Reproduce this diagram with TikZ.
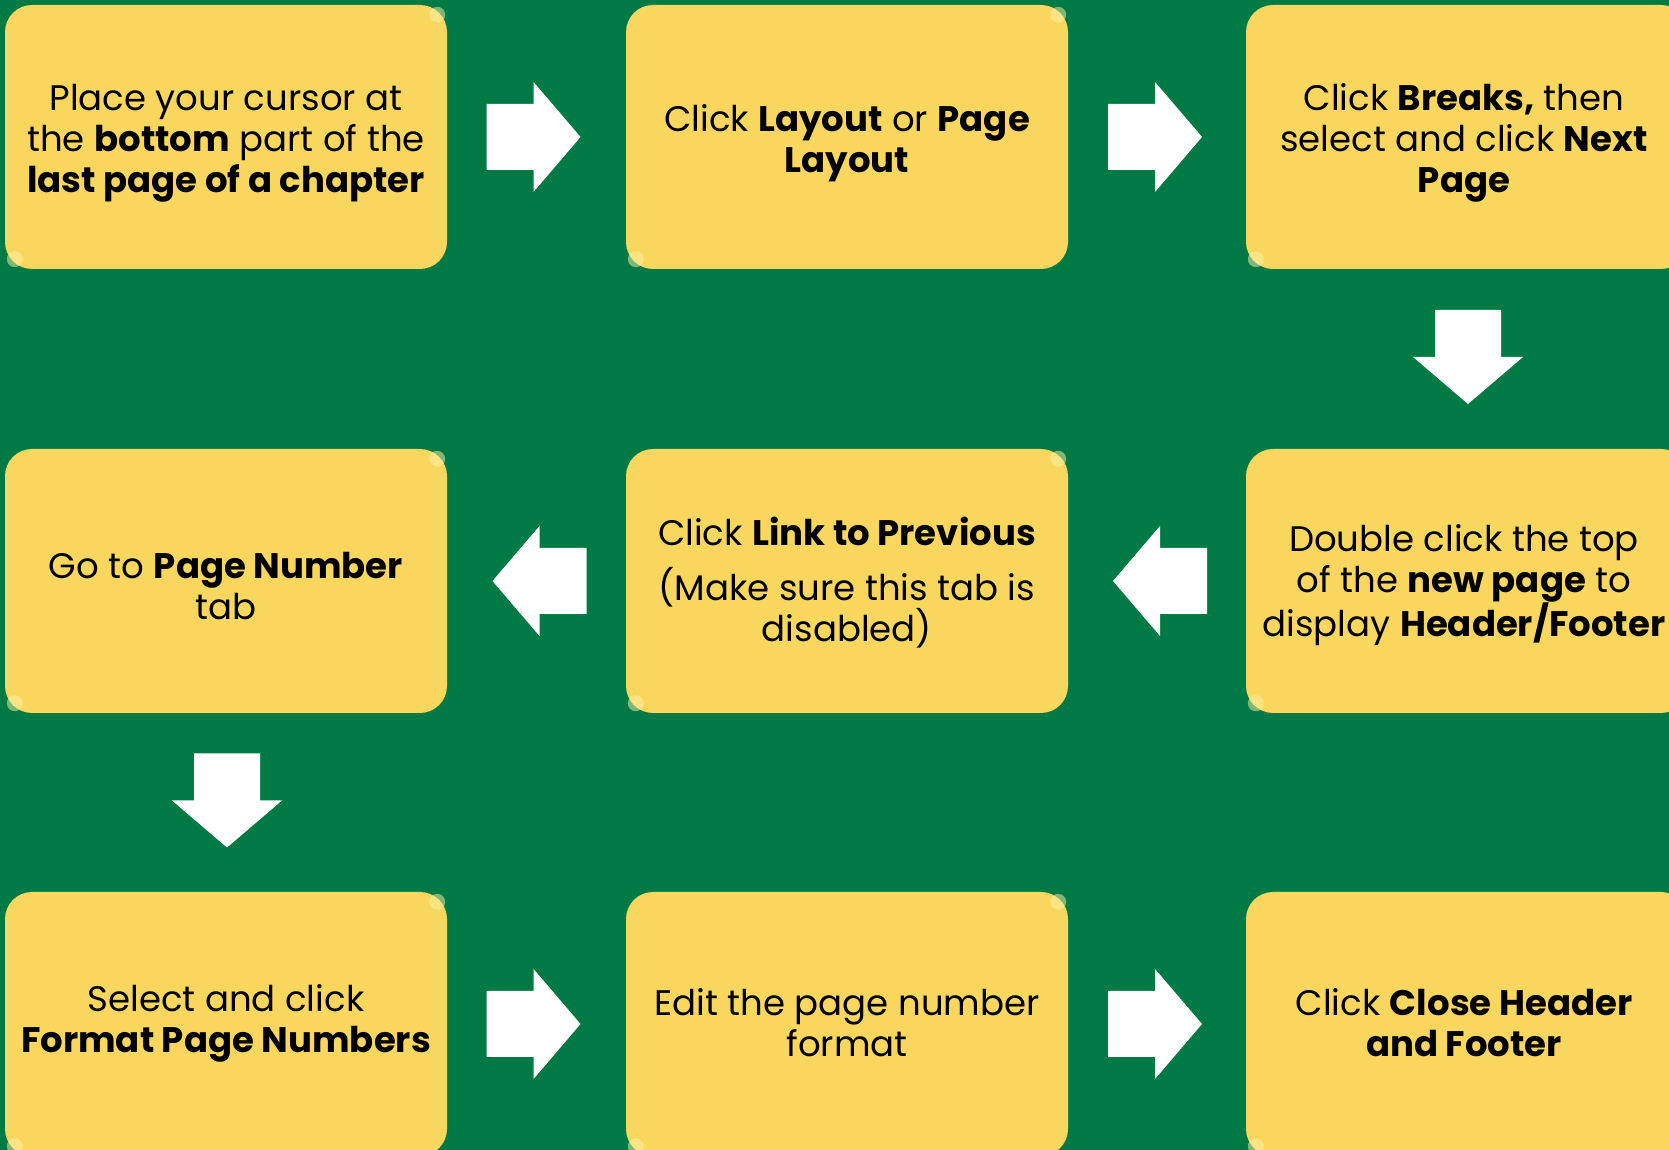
\documentclass[tikz,border=0pt]{standalone}
\usepackage{fontspec}
\setmainfont{Poppins}
\usetikzlibrary{calc}
\definecolor{bggreen}{HTML}{007A45}
\definecolor{boxyellow}{HTML}{F9D65E}
\definecolor{glint}{HTML}{FFF3A8}
\tikzset{
  stepbox/.style={draw=none, fill=boxyellow, rounded corners=27pt,
    minimum width=442pt, minimum height=264pt, inner sep=0pt},
  steptext/.style={align=center, inner sep=0pt, font=\fontsize{35.5}{41}\selectfont, text=black},
  blockarrow/.pic={\fill[white] (-47,-33)--(0,-33)--(0,-55)--(47,0)--(0,55)--(0,33)--(-47,33)--cycle;}
}
\begin{document}
\begin{tikzpicture}[x=1pt,y=1pt]
\useasboundingbox (0,0) rectangle (1669,1150);
\fill[bggreen] (0,0) rectangle (1669,1150);
\clip (0,0) rectangle (1669,1150);
% boxes
\node[stepbox] (b1) at (226,1013) {};
\node[stepbox] (b2) at (847,1013) {};
\node[stepbox] (b3) at (1467,1013) {};
\node[stepbox] (b4) at (1467,569) {};
\node[stepbox] (b5) at (847,569) {};
\node[stepbox] (b6) at (226,569) {};
\node[stepbox] (b7) at (226,126) {};
\node[stepbox] (b8) at (847,126) {};
\node[stepbox] (b9) at (1467,126) {};
% texts
\node[steptext] (t1) at ($(b1.center)+(0,-6)$) {Place your cursor at\\the \textbf{bottom} part of the\\\textbf{last page of a chapter}};
\node[steptext] (t2) at ($(b2.center)+(0,-6)$) {Click \textbf{Layout} or \textbf{Page}\\\textbf{Layout}};
\node[steptext] (t3) at ($(b3.center)+(-3,-6)$) {Click \textbf{Breaks,} then\\select and click \textbf{Next}\\\textbf{Page}};
\node[steptext] (t4) at ($(b4.center)+(-3,-4)$) {Double click the top\\of the \textbf{new page} to\\display \textbf{Header/Footer}};
\node[steptext] (t5) at ($(b5.center)+(0,-2)$) {Click \textbf{Link to Previous}\\[14pt](Make sure this tab is\\disabled)};
\node[steptext] (t6) at ($(b6.center)+(0,-5)$) {Go to \textbf{Page Number}\\tab};
\node[steptext] (t7) at ($(b7.center)+(0,1)$) {Select and click\\\textbf{Format Page Numbers}};
\node[steptext] (t8) at ($(b8.center)+(0,1)$) {Edit the page number\\format};
\node[steptext] (t9) at ($(b9.center)+(-3,1)$) {Click \textbf{Close Header}\\\textbf{and Footer}};
% glints
\foreach \b in {b1,b2,b3,b4,b5,b6,b7,b8,b9}{
  \fill[glint, opacity=0.5] ($(\b.north east)+(-10,-10)$) circle (8);
  \fill[glint, opacity=0.5] ($(\b.south west)+(10,10)$) circle (8);
}
% arrows
\pic at ($(b1.east)!0.5!(b2.west)+(-3,0)$) {blockarrow};
\pic at ($(b2.east)!0.5!(b3.west)+(-2,0)$) {blockarrow};
\pic[rotate=-90] at ($(b3.south)!0.5!(b4.north)+(1,2)$) {blockarrow};
\pic[rotate=180] at ($(b4.west)!0.5!(b5.east)+(3,0)$) {blockarrow};
\pic[rotate=180] at ($(b5.west)!0.5!(b6.east)+(3,0)$) {blockarrow};
\pic[rotate=-90] at ($(b6.south)!0.5!(b7.north)+(1,2)$) {blockarrow};
\pic at ($(b7.east)!0.5!(b8.west)+(-3,0)$) {blockarrow};
\pic at ($(b8.east)!0.5!(b9.west)+(-2,0)$) {blockarrow};
\end{tikzpicture}
\end{document}
